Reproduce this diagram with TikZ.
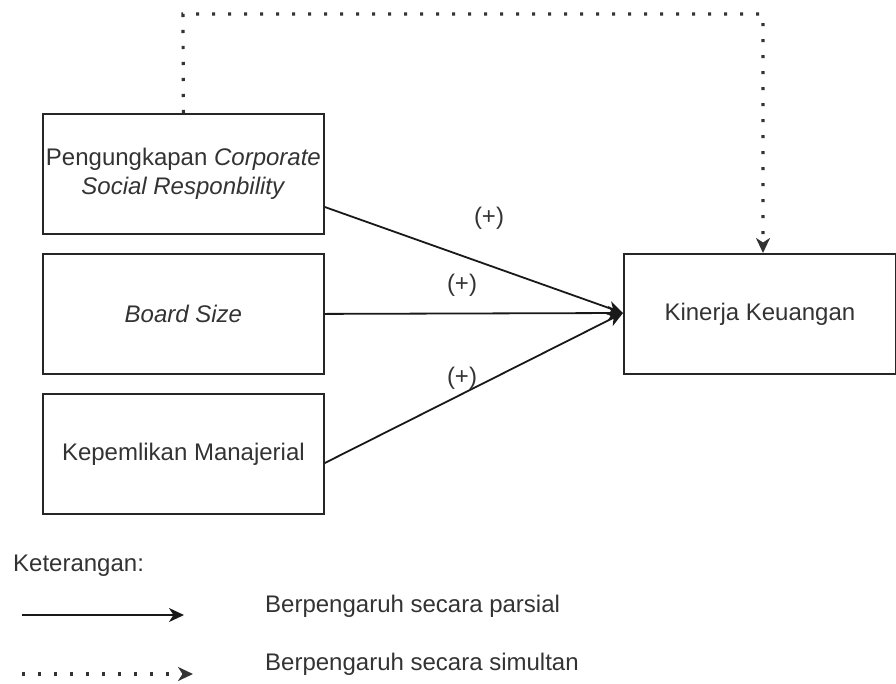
\documentclass[tikz,border=0pt]{standalone}
\usepackage{fontspec}
\setmainfont{Liberation Sans}
\usetikzlibrary{arrows.meta}
\begin{document}
\begin{tikzpicture}[x=1pt,y=-1pt,
  box/.style={draw=black!85,line width=1.8pt,minimum width=281pt,minimum height=120pt,anchor=north west,inner sep=0pt,align=center,font=\fontsize{24}{28.5}\selectfont,text=black!80},
  lbl/.style={font=\fontsize{24}{28}\selectfont,text=black!80,inner sep=0pt},
  tip/.style={-{Stealth[length=15pt,width=14pt,inset=4.5pt]}},
  conn/.style={line width=1.8pt,draw=black!90,tip},
  dots/.style={line width=3.2pt,draw=black!80,dash pattern=on 3.2pt off 12.8pt,tip}
]
\useasboundingbox (0,0) rectangle (896,683);
\node[box] (csr) at (42,113) {Pengungkapan \textit{Corporate}\\\textit{Social Responbility}};
\node[box] (bs) at (42,253) {\textit{Board Size}};
\node[box] (km) at (42,393) {Kepemlikan Manajerial};
\node[box,minimum width=272pt] (kk) at (623,253) {Kinerja Keuangan};

\coordinate (k) at (623,313);
\draw[conn] (csr.east |- 0,207) -- (k);
\draw[conn] (bs.east) -- (k);
\draw[conn] (km.east |- 0,463) -- (k);

\coordinate (c1) at (183,14);
\coordinate (c2) at (763,14);
\draw[dots] (csr.north) -- (c1) -- (c2) -- (kk.north -| c2);

\node[lbl] (p1) at (489,218) {(+)};
\node[lbl] (p2) at (462,285) {(+)};
\node[lbl] (p3) at (462,378) {(+)};

\node[lbl,anchor=west] (ket) at (13,566) {Keterangan:};
\coordinate (a1) at (22,615);
\coordinate (a2) at (184,615);
\draw[conn] (a1) -- (a2);
\coordinate (b1) at (22,674);
\coordinate (b2) at (193,674);
\draw[dots] (b1) -- (b2);
\node[lbl,anchor=west] (t1) at (265,606) {Berpengaruh secara parsial};
\node[lbl,anchor=west] (t2) at (265,664) {Berpengaruh secara simultan};
\end{tikzpicture}
\end{document}
